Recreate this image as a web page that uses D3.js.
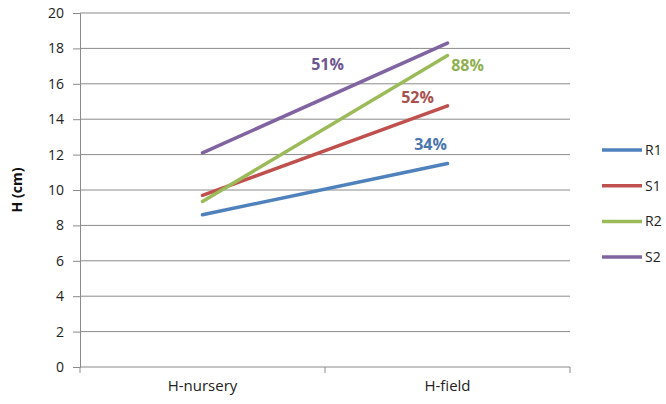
<!DOCTYPE html>
<html>
<head>
<meta charset="utf-8">
<script src="https://cdn.jsdelivr.net/npm/d3@7"></script>
<style>
  html, body { margin: 0; padding: 0; background: #fff; }
  svg { display: block; font-family: "Open Sans", "Noto Sans", sans-serif; }
</style>
</head>
<body>
<svg id="chart" width="666" height="404"></svg>
<script>
// Plant height at two stages for four lines
const stages = ["H-nursery", "H-field"];
const seriesNames = ["R1", "S1", "R2", "S2"];
const r1 = [8.6, 11.5];
const s1 = [9.7, 14.75];
const r2 = [9.35, 17.6];
const s2 = [12.1, 18.3];
const seriesColors = ["#4F81BD", "#C0504D", "#9BBB59", "#8064A2"];
const labelColors = ["#4A76AE", "#A9504C", "#8FB04F", "#6E5791"];
const growthLabels = ["34%", "52%", "88%", "51%"];
const yTicks = [0, 2, 4, 6, 8, 10, 12, 14, 16, 18, 20];

const seriesValues = [r1, s1, r2, s2];
const series = seriesNames.map((name, i) => ({
  name, values: seriesValues[i], color: seriesColors[i],
  label: growthLabels[i], labelColor: labelColors[i]
}));

const svg = d3.select("#chart");
const plotLeft = 80, plotRight = 570, plotTop = 13, plotBottom = 367;

const x = d3.scaleBand().domain(stages).range([plotLeft, plotRight]);
const y = d3.scaleLinear().domain([0, 20]).range([plotBottom, plotTop]);

// Horizontal gridlines
svg.append("g").selectAll("line").data(yTicks.filter(t => t > 0)).join("line")
  .attr("x1", plotLeft).attr("x2", plotRight)
  .attr("y1", d => y(d)).attr("y2", d => y(d))
  .attr("stroke", "#8a8a8a").attr("stroke-width", 1);

// Y axis
const yAxis = svg.append("g").attr("transform", `translate(${plotLeft},0)`)
  .call(d3.axisLeft(y).tickValues(yTicks).tickSize(7).tickPadding(9));
yAxis.select(".domain").attr("stroke", "#8a8a8a");
yAxis.selectAll(".tick line").attr("stroke", "#8a8a8a");
yAxis.selectAll("text").attr("font-size", 14).attr("fill", "#222")
  .attr("font-family", "'Open Sans', 'Noto Sans', sans-serif");

// X axis with tick marks at band edges
const xAxisG = svg.append("g").attr("transform", `translate(0,${plotBottom})`);
xAxisG.append("line").attr("x1", plotLeft).attr("x2", plotRight)
  .attr("stroke", "#8a8a8a");
xAxisG.selectAll("line.edge").data([plotLeft, plotLeft + x.bandwidth(), plotRight]).join("line")
  .attr("class", "edge")
  .attr("x1", d => d).attr("x2", d => d).attr("y1", 0).attr("y2", 6)
  .attr("stroke", "#8a8a8a");
xAxisG.selectAll("text").data(stages).join("text")
  .attr("x", d => x(d) + x.bandwidth() / 2)
  .attr("y", 24)
  .attr("text-anchor", "middle")
  .attr("font-size", 15).attr("fill", "#222")
  .text(d => d);

// Y axis title
svg.append("text")
  .attr("transform", `translate(22,${(plotTop + plotBottom) / 2}) rotate(-90)`)
  .attr("text-anchor", "middle")
  .attr("font-size", 14).attr("font-weight", "bold").attr("fill", "#111")
  .text("H (cm)");

// Series lines
const line = d3.line()
  .x((d, i) => x(stages[i]) + x.bandwidth() / 2)
  .y(d => y(d));

svg.append("g").selectAll("path").data(series).join("path")
  .attr("d", d => line(d.values))
  .attr("fill", "none")
  .attr("stroke", d => d.color)
  .attr("stroke-width", 3.5)
  .attr("stroke-linecap", "round");

// Growth percentage labels, placed relative to each series' end point
const labelOffsets = {
  R1: [-17, -13],
  S1: [-30, -3],
  R2: [20, 15.5],
  S2: [-120, 27]
};
svg.append("g").selectAll("text").data(series).join("text")
  .attr("x", d => x(stages[1]) + x.bandwidth() / 2 + labelOffsets[d.name][0])
  .attr("y", d => y(d.values[1]) + labelOffsets[d.name][1])
  .attr("text-anchor", "middle")
  .attr("font-size", 16).attr("font-weight", "bold")
  .attr("fill", d => d.labelColor)
  .text(d => d.label);

// Legend
const legend = svg.append("g").selectAll("g").data(series).join("g")
  .attr("transform", (d, i) => `translate(602,${150 + i * 35.7})`);
legend.append("line").attr("x1", 0).attr("x2", 40)
  .attr("stroke", d => d.color).attr("stroke-width", 3.5);
legend.append("text").attr("x", 43).attr("y", 5)
  .attr("font-size", 14).attr("fill", "#222")
  .text(d => d.name);
</script>
</body>
</html>
